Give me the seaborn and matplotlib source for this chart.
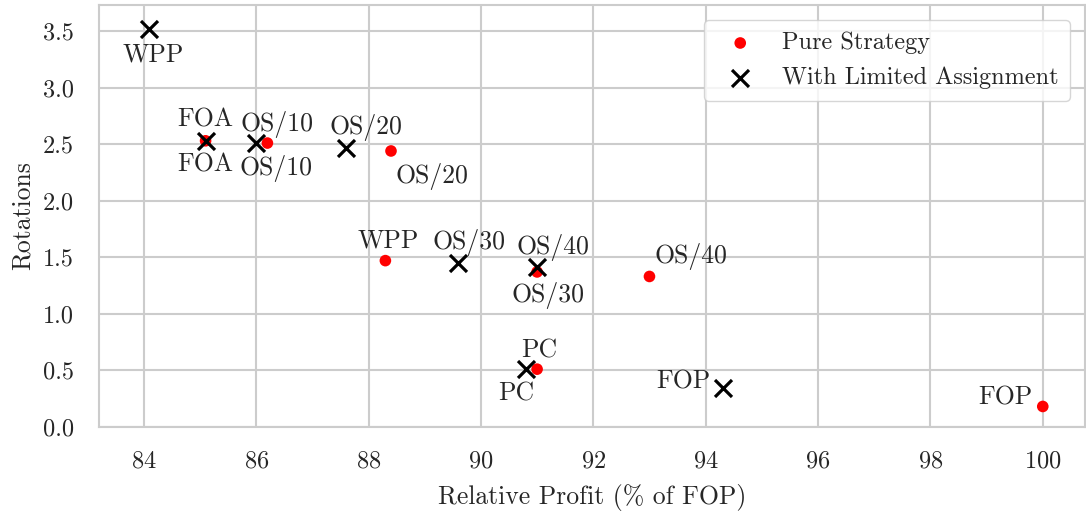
import matplotlib
matplotlib.use("Agg")
import matplotlib.pyplot as plt
import seaborn as sns
import pandas as pd

# Pure Strategy (red dots)
pure_names = ["FOA", "OS/10", "OS/20", "WPP", "OS/30", "OS/40", "PC", "FOP"]
pure_profit = [85.1, 86.2, 88.4, 88.3, 91.0, 93.0, 91.0, 100.0]
pure_rot = [2.53, 2.51, 2.44, 1.47, 1.37, 1.33, 0.51, 0.18]

# With Limited Assignment (black crosses)
lim_names = ["WPP", "FOA", "OS/10", "OS/20", "OS/30", "OS/40", "PC", "FOP"]
lim_profit = [84.1, 85.1, 86.0, 87.6, 89.6, 91.0, 90.8, 94.3]
lim_rot = [3.52, 2.53, 2.51, 2.47, 1.45, 1.41, 0.51, 0.34]

# label offsets in pixels (dx, dy)
pure_off = [(0, -24), (9, -25), (41, -26), (3, 20), (11, -24), (41, 20), (2, 19), (-37, 9)]
lim_off = [(4, -26), (0, 21), (21, 19), (20, 20), (11, 20), (16, 20), (-10, -24), (-39, 7)]

sns.set_theme(style="whitegrid")
plt.rcParams["font.family"] = "serif"
plt.rcParams["font.serif"] = ["cmr10", "DejaVu Serif"]
plt.rcParams["mathtext.fontset"] = "cm"
plt.rcParams["axes.formatter.use_mathtext"] = True
plt.rcParams["axes.unicode_minus"] = False

pure = pd.DataFrame({"profit": pure_profit, "rot": pure_rot})
lim = pd.DataFrame({"profit": lim_profit, "rot": lim_rot})

fig, ax = plt.subplots(figsize=(10.86, 5.13), dpi=100)
fig.subplots_adjust(left=0.091, right=0.999, top=0.990, bottom=0.168)

sns.scatterplot(data=pure, x="profit", y="rot", color="red", s=70, marker="o",
                edgecolor="none", label="Pure Strategy", ax=ax, zorder=3)
sns.scatterplot(data=lim, x="profit", y="rot", color="black", s=150, marker="x",
                linewidth=2.3, label="With Limited Assignment", ax=ax, zorder=4)

for names, xs, ys, offs in [(pure_names, pure_profit, pure_rot, pure_off),
                            (lim_names, lim_profit, lim_rot, lim_off)]:
    for n, x, y, o in zip(names, xs, ys, offs):
        ax.annotate(n, (x, y), xytext=o, textcoords="offset pixels",
                    ha="center", va="center", fontsize=18.5, color="#262626")

ax.set_xlim(83.2, 100.75)
ax.set_ylim(0.0, 3.73)
ax.set_xticks([84, 86, 88, 90, 92, 94, 96, 98, 100])
ax.set_yticks([0.0, 0.5, 1.0, 1.5, 2.0, 2.5, 3.0, 3.5])
ax.set_yticklabels(["0.0", "0.5", "1.0", "1.5", "2.0", "2.5", "3.0", "3.5"])
ax.tick_params(axis="x", labelsize=17.5, pad=11)
ax.tick_params(axis="y", labelsize=17.5, pad=12)
ax.set_xlabel("Relative Profit (% of FOP)", fontsize=18.5, labelpad=8)
ax.set_ylabel("Rotations", fontsize=18.5, labelpad=6)
for sp in ax.spines.values():
    sp.set_linewidth(1.5)
ax.grid(linewidth=1.5)
ax.legend(loc="upper right", fontsize=17.5, borderaxespad=0.6, handletextpad=0.7,
          borderpad=0.5)

fig.savefig("out.png", dpi=100)
